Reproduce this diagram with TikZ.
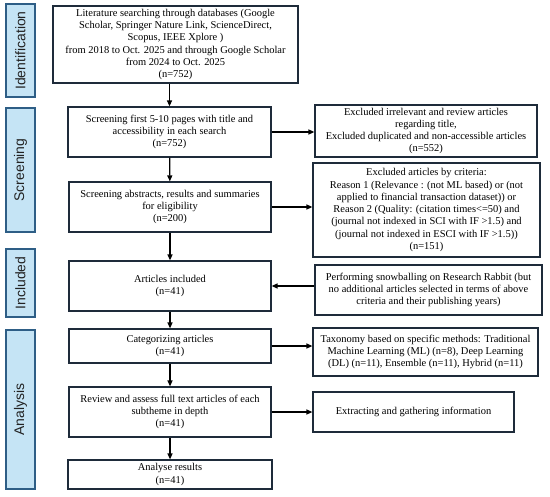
\documentclass[tikz,border=0pt]{standalone}
\usepackage{fontspec}
\setmainfont{Liberation Serif}
\newfontfamily\labelfont{Liberation Sans}
\usetikzlibrary{arrows.meta}
\definecolor{stagefill}{HTML}{C5E4F5}
\definecolor{stageline}{HTML}{2E5E86}
\definecolor{boxline}{HTML}{1E2B3A}
\definecolor{labeltext}{HTML}{222222}
\tikzset{
  mbox/.style={draw=boxline, line width=1.2pt, fill=white, inner sep=0pt, align=center,
    font=\fontsize{10.5}{12.3}\selectfont},
  stagebox/.style={draw=stageline, line width=1.4pt, fill=stagefill, inner sep=0pt,
    rotate=90, minimum height=29bp, text=labeltext, font=\labelfont\fontsize{14}{16}\selectfont},
  conn/.style={line width=1.2pt, -{Triangle[length=6pt,width=5pt]}}
}
\begin{document}
\begin{tikzpicture}[x=1bp,y=-1bp]
\useasboundingbox (0,0) rectangle (550,497);
% stages
\node[stagebox, minimum width=93bp] (sid) at (20.5,50.5) {Identification};
\node[stagebox, minimum width=124bp] (sscr) at (20.5,170) {Screening};
\node[stagebox, minimum width=68bp] (sinc) at (20.5,283) {Included};
\node[stagebox, minimum width=159bp] (sana) at (20.5,409.5) {Analysis};
% main column
\node[mbox, minimum width=245bp, minimum height=77bp] (b1) at (175.5,44.5)
 {Literature searching through databases (Google\\Scholar, Springer Nature Link, ScienceDirect,\\Scopus, IEEE Xplore )\\from 2018 to Oct. 2025 and through Google Scholar\\from 2024 to Oct. 2025\\(n=752)};
\node[mbox, minimum width=203bp, minimum height=50bp] (b2) at (169.5,132)
 {Screening first 5-10 pages with title and\\accessibility in each search\\(n=752)};
\node[mbox, minimum width=202bp, minimum height=50bp] (b3) at (170,207)
 {Screening abstracts, results and summaries\\for eligibility\\(n=200)};
\node[mbox, minimum width=202bp, minimum height=50bp] (b4) at (170,286)
 {Articles included\\(n=41)};
\node[mbox, minimum width=202bp, minimum height=34bp] (b5) at (170,346)
 {Categorizing articles\\(n=41)};
\node[mbox, minimum width=202bp, minimum height=50bp] (b6) at (170,412)
 {Review and assess full text articles of each\\subtheme in depth\\(n=41)};
\node[mbox, minimum width=204bp, minimum height=29bp] (b7) at (170,474.5)
 {Analyse results\\(n=41)};
% right column
\node[mbox, minimum width=222bp, minimum height=52bp] (r1) at (426,131)
 {Excluded irrelevant and review articles\\regarding title,\\Excluded duplicated and non-accessible articles\\(n=552)};
\node[mbox, minimum width=227bp, minimum height=94bp] (r2) at (426.5,210)
 {Excluded articles by criteria:\\Reason 1 (Relevance : (not ML based) or (not\\applied to financial transaction dataset)) or\\Reason 2 (Quality: (citation times<=50) and\\(journal not indexed in SCI with IF >1.5) and\\(journal not indexed in ESCI with IF >1.5))\\(n=151)};
\node[mbox, minimum width=227bp, minimum height=50bp] (r3) at (428.5,290)
 {Performing snowballing on Research Rabbit (but\\no additional articles selected in terms of above\\criteria and their publishing years)};
\node[mbox, minimum width=225bp, minimum height=48bp] (r4) at (425.5,352)
 {Taxonomy based on specific methods: Traditional\\Machine Learning (ML) (n=8), Deep Learning\\(DL) (n=11), Ensemble (n=11), Hybrid (n=11)};
\node[mbox, minimum width=201bp, minimum height=40bp] (r5) at (413.5,412)
 {Extracting and gathering information};
% connectors
\draw[conn] (b2.north |- b1.south) -- (b2.north);
\draw[conn] (b2) -- (b3);
\draw[conn] (b3) -- (b4);
\draw[conn] (b4) -- (b5);
\draw[conn] (b5) -- (b6);
\draw[conn] (b6) -- (b7);
\draw[conn] (b2.east) -- (b2.east -| r1.west);
\draw[conn] (b3.east) -- (b3.east -| r2.west);
\draw[conn] (b4.east -| r3.west) -- (b4.east);
\draw[conn] (b5.east) -- (b5.east -| r4.west);
\draw[conn] (b6.east) -- (b6.east -| r5.west);
\end{tikzpicture}
\end{document}
